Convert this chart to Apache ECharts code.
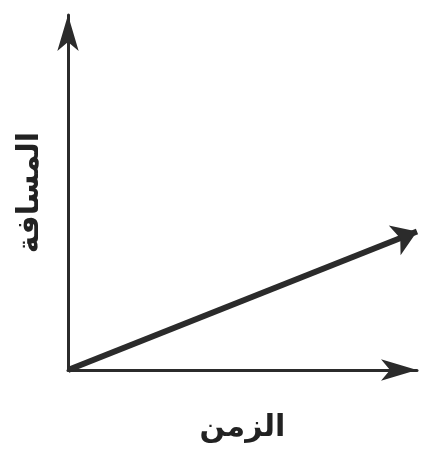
<!DOCTYPE html>
<html>
<head>
<meta charset="utf-8">
<script src="https://cdn.jsdelivr.net/npm/echarts@6/dist/echarts.min.js"></script>
<style>
  html, body { margin: 0; padding: 0; background: #fff; }
  #chart { width: 423px; height: 456px; }
</style>
</head>
<body>
<div id="chart"></div>
<script>
// axis titles
const xName = 'الزمن'
const yName = 'المسافة'

// distance grows linearly with time
const linePoints = [[0, 0], [10, 3.9]]

const chart = echarts.init(document.getElementById('chart'))

const axisCommon = {
  type: 'value',
  min: 0,
  max: 10,
  axisTick: { show: false },
  axisLabel: { show: false },
  splitLine: { show: false },
  nameLocation: 'middle',
  nameTextStyle: {
    fontFamily: 'DejaVu Sans',
    fontWeight: 'bold',
    fontSize: 30,
    color: '#222',
  },
  axisLine: {
    show: true,
    symbol: ['none', 'arrow'],
    symbolSize: [16, 36],
    symbolOffset: [0, 0],
    lineStyle: { color: '#2b2b2b', width: 3 },
  },
}

chart.setOption({
  animation: false,
  grid: { left: 68, right: 6, top: 15, bottom: 86 },
  xAxis: { ...axisCommon, name: xName, nameGap: 43 },
  yAxis: { ...axisCommon, name: yName, nameGap: 23, nameRotate: 90 },
  series: [
    {
      type: 'lines',
      coordinateSystem: 'cartesian2d',
      symbol: ['none', 'arrow'],
      // lines series: [start size, end size]
      symbolSize: [0, 24],
      lineStyle: { color: '#2b2b2b', width: 6, opacity: 1 },
      data: [{ coords: linePoints }],
    },
  ],
})
</script>
</body>
</html>
